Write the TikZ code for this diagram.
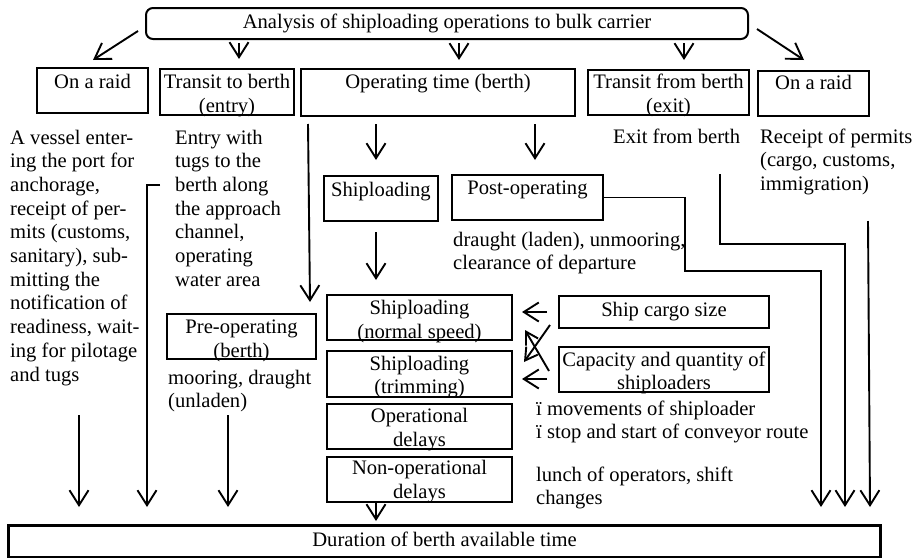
\documentclass[tikz,border=0pt]{standalone}
\usepackage{fontspec}
\setmainfont{Liberation Serif}
\usetikzlibrary{arrows.meta,calc}
\newcommand\fs{\fontsize{20.6}{23.7}\selectfont}

\begin{document}
\begin{tikzpicture}[x=1pt,y=-1pt,
  box/.style={draw, line width=2pt, inner sep=0pt, anchor=north west},
  % multi-line texts are anchored at the baseline of their last line
  txt/.style={font=\fs, inner sep=0pt, anchor=base, align=center},
  para/.style={font=\fs, inner sep=0pt, anchor=base west, align=left},
  arr/.style={line width=1.9pt, -{Straight Barb[length=15pt,width=19pt,line width=1.9pt]}},
  crossarr/.style={line width=1.9pt, -{Straight Barb[length=12pt,width=14pt,line width=1.9pt]}}]
\useasboundingbox (0,0) rectangle (913,557);

% top heading
\node[box, rounded corners=7pt, minimum width=602pt, minimum height=31pt] (top) at (145,7) {};
\node[font=\fs, inner sep=0pt] (topT) at (top.center) {Analysis of shiploading operations to bulk carrier};

% first row of phases
\node[box, minimum width=111pt, minimum height=45pt] (raidL) at (36,67) {};
\node[box, minimum width=134pt, minimum height=46pt] (tin) at (159,68) {};
\node[box, minimum width=274pt, minimum height=47pt] (op) at (300,68) {};
\node[box, minimum width=161pt, minimum height=45pt] (exit) at (587,69) {};
\node[box, minimum width=111pt, minimum height=45pt] (raidR) at (757,70) {};

\node[txt] (raidLT) at ($(raidL.north)+(0,21)$) {On a raid};
\node[txt] (tinT) at ($(tin.north)+(0,44)$) {Transit to berth\\(entry)};
\node[txt] (opT) at ($(op.north)+(0,20)$) {Operating time (berth)};
\node[txt] (exitT) at ($(exit.north)+(0,43.5)$) {Transit from berth\\(exit)};
\node[txt] (raidRT) at ($(raidR.north)+(0,19)$) {On a raid};

% operating time breakdown
\node[box, minimum width=114pt, minimum height=45pt] (ship) at (323,175) {};
\node[box, minimum width=151pt, minimum height=45pt] (post) at (451,174) {};
\node[box, minimum width=149pt, minimum height=45pt] (preop) at (166,313) {};
\node[box, minimum width=185pt, minimum height=45pt] (normal) at (326,294) {};
\node[box, minimum width=185pt, minimum height=46pt] (trim) at (326,350) {};
\node[box, minimum width=185pt, minimum height=45pt] (opdel) at (326,403) {};
\node[box, minimum width=185pt, minimum height=45pt] (nonop) at (326,456) {};
\node[box, minimum width=210pt, minimum height=32pt] (cargo) at (558,295) {};
\node[box, minimum width=210pt, minimum height=45pt] (cap) at (558,346) {};
\node[box, line width=3pt, minimum width=872pt, minimum height=32pt] (dur) at (7,524) {};

\node[txt] (shipT) at ($(ship.north)+(0,21)$) {Shiploading};
\node[txt] (postT) at ($(post.north)+(0,20)$) {Post-operating};
\node[txt] (preopT) at ($(preop.north)+(0,44)$) {Pre-operating\\(berth)};
\node[txt] (normalT) at ($(normal.north)+(0,44)$) {Shiploading\\(normal speed)};
\node[txt] (trimT) at ($(trim.north)+(0,43.7)$) {Shiploading\\(trimming)};
\node[txt] (opdelT) at ($(opdel.north)+(0,43)$) {Operational\\delays};
\node[txt] (nonopT) at ($(nonop.north)+(0,42)$) {Non-operational\\delays};
\node[txt] (cargoT) at ($(cargo.north)+(0,21)$) {Ship cargo size};
\node[txt] (capT) at ($(cap.north)+(0,43.7)$) {Capacity and quantity of\\shiploaders};
\node[txt] (durT) at ($(dur.north)+(0,22)$) {Duration of berth available time};

% descriptions
\node[para] (vessel) at (10,381) {A vessel enter-\\ing the port for\\anchorage,\\receipt of per-\\mits (customs,\\sanitary), sub-\\mitting the\\notification of\\readiness, wait-\\ing for pilotage\\and tugs};
\node[para] (entry) at (175,286.2) {Entry with\\tugs to the\\berth along\\the approach\\channel,\\operating\\water area};
\node[para] (exitD) at (613,143) {Exit from berth};
\node[para] (receipt) at (760,190.4) {Receipt of permits\\(cargo, customs,\\immigration)};
\node[para] (draught) at (453,269.7) {draught (laden), unmooring,\\clearance of departure};
\node[para] (mooring) at (168,407.7) {mooring, draught\\(unladen)};
\node[para] (moves) at (536,438.7) {ï movements of shiploader\\ï stop and start of conveyor route};
\node[para] (lunch) at (536,504.7) {lunch of operators, shift\\changes};

% connectors from the heading
\draw[arr] ($(top.west)+(-7,7.5)$) -- ($(raidL.north)+(0.5,-7)$);
\draw[arr] ($(tin.north |- top.south)+(12,3)$) -- ($(tin.north)+(12,-9)$);
\draw[arr] ($(op.north |- top.south)+(21,3)$) -- ($(op.north)+(21,-8)$);
\draw[arr] ($(exit.north |- top.south)+(15.5,3)$) -- ($(exit.north)+(15.5,-9)$);
\draw[arr] ($(top.east)+(8,5.5)$) -- ($(raidR.north)+(-9.5,-10)$);

% operating time to its parts
\draw[arr] ($(ship.north |- op.south)+(-5,7)$) -- ($(ship.north)+(-5,-15)$);
\draw[arr] ($(post.north |- op.south)+(7.5,7)$) -- ($(post.north)+(7.5,-14)$);
\draw[arr] ($(op.south west)+(8,7)$) -- ($(preop.north east)+(-7,-11)$);
\draw[arr] ($(ship.south)+(-5,10)$) -- ($(normal.north -| ship.south)+(-5,-14)$);

% influencing factors
\draw[arr] ($(cargo.west)+(-11,0)$) -- ($(normal.east |- cargo.west)+(9,0)$);
\draw[arr] ($(cap.west)+(-11,9.5)$) -- ($(trim.east |- cap.west)+(9,9.5)$);
\draw[crossarr] ($(cargo.south west)+(-8,-4)$) -- ($(trim.north east)+(11,12)$);
\draw[crossarr] ($(cap.west)+(-9,1.5)$) -- ($(normal.south east)+(12,-11)$);

% flows into the berth available time
\draw[arr] ($(dur.north west)+(72,-109)$) -- ($(dur.north west)+(72,-17)$);
\draw[arr] ($(tin.south west)+(1,69)$) -| ($(dur.north west)+(140,-17)$);
\draw[arr] ($(dur.north west)+(221,-109)$) -- ($(dur.north west)+(221,-17)$);
\draw[arr] ($(nonop.south)+(-43.5,0)$) -- ($(dur.north -| nonop.south)+(-43.5,-3)$);
\draw[arr] (post.east) -| ($(post.east)+(81,73.5)$) -| ($(dur.north east)+(-61,-17)$);
\draw[arr] ($(exit.south)+(51.5,58)$) -- ($(exit.south)+(51.5,128)$) -| ($(dur.north east)+(-37,-17)$);
\draw[arr] ($(raidR.south)+(54.5,104)$) -- ($(dur.north east)+(-12,-17)$);
\end{tikzpicture}
\end{document}
